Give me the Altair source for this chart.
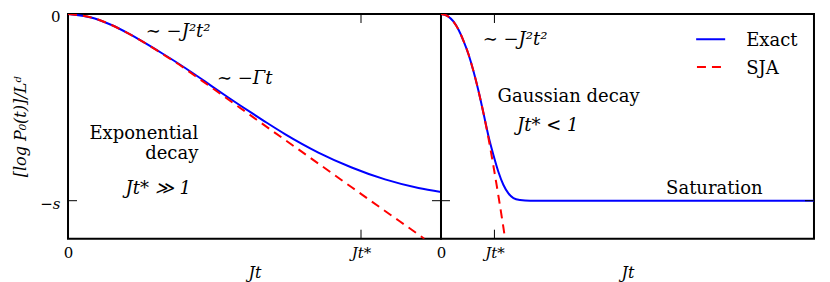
import altair as alt
import pandas as pd

# ---------------- data ----------------
# time in units of t*, value of [log P0(t)]/L^d in units of s
left_exact_t = [0, 0.0915, 0.1486, 0.2056, 0.2623, 0.3193, 0.3764, 0.4331, 0.4901, 0.5471,
                0.6267, 0.6721, 0.7404, 0.8545, 0.9682, 1.082, 1.196, 1.273]
left_exact_v = [0, -0.024, -0.059, -0.104, -0.155, -0.209, -0.265, -0.324, -0.386, -0.447,
                -0.530, -0.576, -0.643, -0.742, -0.822, -0.886, -0.932, -0.953]
left_sja_t = [0, 0.0915, 0.1486, 0.2056, 0.2623, 0.3193, 0.3764, 0.4331, 0.4901, 0.5471,
              0.6267, 0.7404, 0.8545, 0.9682, 1.082, 1.196, 1.216]
left_sja_v = [0, -0.024, -0.059, -0.104, -0.155, -0.211, -0.268, -0.331, -0.394, -0.458,
              -0.547, -0.674, -0.801, -0.928, -1.055, -1.181, -1.2035]

right_sja_t = [0, 0.125, 0.232, 0.326, 0.419, 0.513, 0.607, 0.700, 0.794, 0.888, 0.981,
               1.075, 1.169, 1.199]
right_sja_v = [0, -0.011, -0.040, -0.083, -0.142, -0.214, -0.305, -0.410, -0.530, -0.664,
               -0.814, -0.975, -1.146, -1.2035]
right_exact_t = [0, 0.125, 0.232, 0.326, 0.419, 0.513, 0.607, 0.700, 0.794, 0.888, 0.981,
                 1.075, 1.169, 1.262, 1.356, 1.479, 1.667, 6.98]
right_exact_v = [0, -0.011, -0.040, -0.083, -0.142, -0.214, -0.305, -0.410, -0.530, -0.653,
                 -0.755, -0.846, -0.916, -0.961, -0.986, -0.996, -1.0, -1.0]

x_tick_values = [0, 1]
x_tick_labels = ["0", "Jt*"]
y_tick_values = [0, -1]
y_tick_labels = ["0", "\u2212s"]
series_names = ["Exact", "SJA"]
x_title = "Jt"
y_title = "[log P\u2080(t)]/L\u1d48"

left_notes = ["\u223c \u2212J\u00b2t\u00b2", "\u223c \u2212\u0393t", "Exponential", "decay", "Jt* \u226b 1"]
right_notes = ["\u223c \u2212J\u00b2t\u00b2", "Gaussian decay", "Jt* < 1", "Saturation"]

# ---------------- layout / style ----------------
W = 373
H = 224.7
X_LEFT_MAX = 1.273
X_RIGHT_MAX = 6.98
Y_MIN = -1.2035
FONT = "DejaVu Serif"
BLUE = "#0000ff"
RED = "#ff0000"
DASH = [9, 6]
LW = 2
TICK_PX = 9
NOTE_SIZE = 18

# (x, y, align, style) for each note, in data units
left_note_pos = [(0.376, -0.123, "center", "italic"),
                 (0.603, -0.375, "center", "italic"),
                 (0.4447, -0.672, "right", "normal"),
                 (0.4447, -0.775, "right", "normal"),
                 (0.308, -0.9625, "center", "italic")]
right_note_pos = [(1.386, -0.164, "center", "italic"),
                  (2.388, -0.471, "center", "normal"),
                  (1.998, -0.628, "center", "italic"),
                  (5.116, -0.9625, "center", "normal")]
legend_line = [(4.775, 5.318, -0.1355), (4.79, 5.318, -0.284)]
legend_text = [(5.712, -0.171), (5.712, -0.32)]


def label_expr(values, labels):
    return f"datum.value == {values[0]} ? '{labels[0]}' : '{labels[1]}'"


def panel(exact_t, exact_v, sja_t, sja_v, xmax, show_y, notes, note_pos, legend):
    xs = alt.Scale(domain=[0, xmax], nice=False, zero=False)
    ys = alt.Scale(domain=[Y_MIN, 0], nice=False, zero=False)
    xaxis = alt.Axis(values=x_tick_values, labelExpr=label_expr(x_tick_values, x_tick_labels),
                     ticks=False, domain=False, grid=False, labelFlush=False,
                     labelFont=FONT, labelFontSize=15, labelPadding=7,
                     labelFontStyle={"condition": {"test": "datum.value == 0", "value": "normal"},
                                     "value": "italic"},
                     title=x_title, titleFont=FONT, titleFontSize=16, titleFontStyle="italic",
                     titleFontWeight="normal", titlePadding=4, labelColor="black", titleColor="black")
    if show_y:
        yaxis = alt.Axis(values=y_tick_values, labelExpr=label_expr(y_tick_values, y_tick_labels),
                         ticks=False, domain=False, grid=False, labelFlush=False,
                         labelFont=FONT, labelFontSize=15, labelPadding=8, labelOffset=2.5,
                         labelFontStyle={"condition": {"test": "datum.value == 0", "value": "normal"},
                                         "value": "italic"},
                         title=y_title, titleFont=FONT, titleFontSize=16, titleFontStyle="italic",
                         titleFontWeight="normal", titlePadding=11, labelColor="black",
                         titleColor="black")
    else:
        yaxis = None
    X = alt.X("t:Q", scale=xs, axis=xaxis, title=x_title)
    Y = alt.Y("v:Q", scale=ys, axis=yaxis, title=y_title)

    exact = alt.Chart(pd.DataFrame({"t": exact_t, "v": exact_v})).mark_line(
        color=BLUE, strokeWidth=LW, interpolate="monotone", clip=True).encode(x=X, y=Y)
    sja = alt.Chart(pd.DataFrame({"t": sja_t, "v": sja_v})).mark_line(
        color=RED, strokeWidth=LW, strokeDash=DASH, interpolate="monotone", clip=True).encode(x=X, y=Y)

    kx = W / xmax
    ky = H / (-Y_MIN)
    dx = TICK_PX / kx
    dy = TICK_PX / ky
    xt = x_tick_values[1]
    yt = y_tick_values[1]
    ticks_df = pd.DataFrame({"t": [0, xmax - dx, xt, xt],
                             "t2": [dx, xmax, xt, xt],
                             "v": [yt, yt, Y_MIN, 0],
                             "v2": [yt, yt, Y_MIN + dy, -dy]})
    ticks = alt.Chart(ticks_df).mark_rule(color="black", strokeWidth=1).encode(
        x=X, x2="t2:Q", y=Y, y2="v2:Q")

    layers = [exact, sja, ticks]
    for txt, (px, py, al, st) in zip(notes, note_pos):
        layers.append(alt.Chart(pd.DataFrame({"t": [px], "v": [py], "label": [txt]})).mark_text(
            font=FONT, fontSize=NOTE_SIZE, fontStyle=st, align=al, baseline="alphabetic",
            color="black").encode(x=X, y=Y, text="label:N"))
    if legend:
        for (a, b, yv), col, dash in zip(legend_line, [BLUE, RED], [[1, 0], DASH]):
            layers.append(alt.Chart(pd.DataFrame({"t": [a], "t2": [b], "v": [yv]})).mark_rule(
                color=col, strokeWidth=LW, strokeDash=dash).encode(x=X, x2="t2:Q", y=Y))
        for name, (a, yv) in zip(series_names, legend_text):
            layers.append(alt.Chart(pd.DataFrame({"t": [a], "v": [yv], "label": [name]})).mark_text(
                font=FONT, fontSize=NOTE_SIZE, align="left", baseline="alphabetic",
                color="black").encode(x=X, y=Y, text="label:N"))
    return alt.layer(*layers).properties(width=W, height=H)


left = panel(left_exact_t, left_exact_v, left_sja_t, left_sja_v, X_LEFT_MAX, True,
             left_notes, left_note_pos, False)
right = panel(right_exact_t, right_exact_v, right_sja_t, right_sja_v, X_RIGHT_MAX, False,
              right_notes, right_note_pos, True)

chart = alt.hconcat(left, right, spacing=0, bounds="flush",
                    padding={"left": 3, "top": 0, "right": 0, "bottom": 4}).configure(
    font=FONT, background="white").configure_view(stroke="black", strokeWidth=2)

chart.save("out.html", embed_options={"renderer": "svg", "actions": False})
